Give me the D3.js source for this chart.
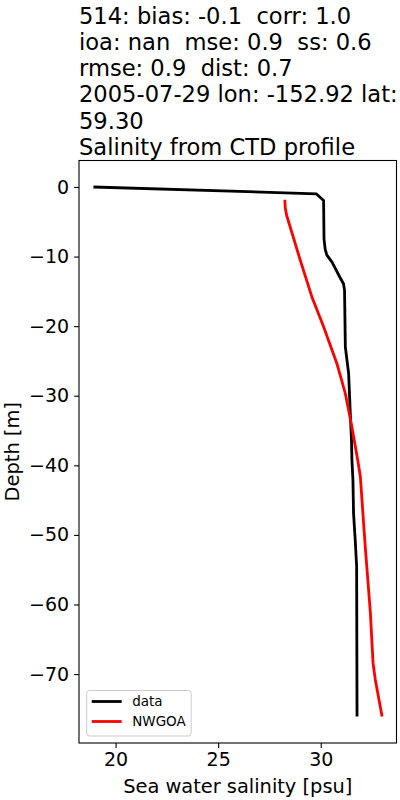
<!DOCTYPE html>
<html>
<head>
<meta charset="utf-8">
<script src="https://d3js.org/d3.v7.min.js"></script>
<style>
  body { margin: 0; background: #fff; }
  svg text { font-family: 'DejaVu Sans', sans-serif; fill: #000; }
  .axis path, .axis line { stroke: #000; stroke-width: 1.1; }
  .axis text { font-size: 19px; }
  .title { white-space: pre; }
</style>
</head>
<body>
<div id="chart"></div>
<script>
// title lines
var titleLines = [
  "514: bias: -0.1  corr: 1.0",
  "ioa: nan  mse: 0.9  ss: 0.6",
  "rmse: 0.9  dist: 0.7",
  "2005-07-29 lon: -152.92 lat:",
  "59.30",
  "Salinity from CTD profile"
];

// observed CTD profile
var dataSal   = [18.92, 29.78, 30.14, 30.16, 30.22, 30.30, 30.55, 30.71, 30.92, 31.11, 31.16, 31.20, 31.36, 31.44, 31.50, 31.52, 31.57, 31.60, 31.68, 31.75, 31.77];
var dataDepth = [0, -0.98, -1.94, -7.5, -9.0, -9.8, -10.8, -11.7, -12.9, -13.9, -14.8, -23.0, -26.8, -32.5, -36.4, -39.2, -42.1, -46.9, -50.7, -54.5, -76.1];

// model profile
var modelSal   = [28.25, 28.27, 28.34, 29.00, 29.57, 30.14, 30.79, 31.20, 31.52, 31.80, 31.93, 32.17, 32.42, 32.55, 32.66, 32.99];
var modelDepth = [-1.84, -3.0, -4.1, -10.5, -15.8, -20.1, -25.4, -29.7, -34.5, -39.2, -41.6, -51.7, -61.2, -68.4, -70.8, -76.1];

var xTicks = [20, 25, 30];
var yTicks = [0, -10, -20, -30, -40, -50, -60, -70];

var series = [
  { name: "data",  color: "#000000", sal: dataSal,  depth: dataDepth },
  { name: "NWGOA", color: "#ff0000", sal: modelSal, depth: modelDepth }
];

var W = 400, H = 800;
var margin = { top: 160.5, right: 3.5, bottom: 57, left: 79 };
var width = W - margin.left - margin.right;
var height = H - margin.top - margin.bottom;

function padded(vals) {
  var lo = d3.min(vals), hi = d3.max(vals), p = (hi - lo) * 0.05;
  return [lo - p, hi + p];
}

var x = d3.scaleLinear().domain(padded(dataSal.concat(modelSal))).range([0, width]);
var y = d3.scaleLinear().domain(padded(dataDepth.concat(modelDepth))).range([height, 0]);

var svg = d3.select("#chart").append("svg")
  .attr("width", W).attr("height", H);

// title
svg.append("text")
  .attr("class", "title")
  .attr("x", margin.left)
  .attr("y", 23.5)
  .style("font-size", "22.6px")
  .selectAll("tspan")
  .data(titleLines).enter()
  .append("tspan")
  .attr("x", margin.left)
  .attr("dy", function(d, i) { return i === 0 ? 0 : 26.3; })
  .text(function(d) { return d; });

var g = svg.append("g")
  .attr("transform", "translate(" + margin.left + "," + margin.top + ")");

var line = d3.line()
  .x(function(d) { return x(d[0]); })
  .y(function(d) { return y(d[1]); });

series.forEach(function(s) {
  g.append("path")
    .datum(d3.zip(s.sal, s.depth))
    .attr("fill", "none")
    .attr("stroke", s.color)
    .attr("stroke-width", 2.8)
    .attr("stroke-linejoin", "round")
    .attr("d", line);
});

var xAxis = d3.axisBottom(x).tickValues(xTicks).tickSize(4.9).tickPadding(4.9).tickFormat(d3.format("d"));
var yAxis = d3.axisLeft(y).tickValues(yTicks).tickSize(4.9).tickPadding(4.9).tickFormat(d3.format("d"));

g.append("g").attr("class", "axis")
  .attr("transform", "translate(0," + height + ")")
  .call(xAxis)
  .call(function(a) { a.select(".domain").remove(); });

g.append("g").attr("class", "axis")
  .call(yAxis)
  .call(function(a) { a.select(".domain").remove(); });

// frame
g.append("rect")
  .attr("width", width).attr("height", height)
  .attr("fill", "none").attr("stroke", "#000").attr("stroke-width", 1.1);

// axis labels
svg.append("text")
  .attr("x", margin.left + width / 2)
  .attr("y", 793)
  .attr("text-anchor", "middle")
  .style("font-size", "19.4px")
  .text("Sea water salinity [psu]");

svg.append("text")
  .attr("transform", "translate(19," + (margin.top + height / 2) + ") rotate(-90)")
  .attr("text-anchor", "middle")
  .style("font-size", "19.4px")
  .text("Depth [m]");

// legend
var leg = g.append("g").attr("transform", "translate(7.7," + (height - 7 - 45.5) + ")");
leg.append("rect")
  .attr("width", 104.5).attr("height", 45.5)
  .attr("rx", 3).attr("ry", 3)
  .attr("fill", "#fff").attr("fill-opacity", 0.8)
  .attr("stroke", "#cccccc").attr("stroke-width", 1);

series.forEach(function(s, i) {
  var yy = 11 + i * 20;
  leg.append("line")
    .attr("x1", 5).attr("x2", 35)
    .attr("y1", yy).attr("y2", yy)
    .attr("stroke", s.color).attr("stroke-width", 2.8);
  leg.append("text")
    .attr("x", 45.5).attr("y", yy + 4.8)
    .style("font-size", "13.5px")
    .text(s.name);
});
</script>
</body>
</html>
